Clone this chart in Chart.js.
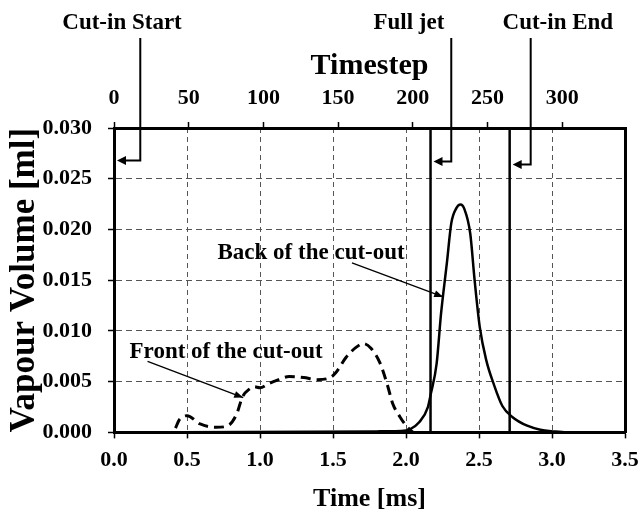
<!DOCTYPE html>
<html>
<head>
<meta charset="utf-8">
<script src="https://cdn.jsdelivr.net/npm/chart.js@4/dist/chart.umd.min.js"></script>
<style>
  html, body { margin: 0; padding: 0; background: #fff; }
</style>
</head>
<body>
<canvas id="vapourChart" width="640" height="517"></canvas>
<script>
const FONT = '"Liberation Serif", "Times New Roman", serif';

// front of the cut-out (dashed), time [ms] / volume [ml]
const frontTime = [0, 0.40, 0.45, 0.50, 0.59, 0.70, 0.78, 0.84, 0.88, 0.93, 0.96, 1.00, 1.06, 1.11, 1.20, 1.30, 1.39, 1.48, 1.52, 1.59, 1.66, 1.71, 1.76, 1.82, 1.87, 1.91, 1.96, 2.01, 2.05];
const frontVol = [0, 0, 0.0013, 0.00165, 0.00083, 0.0005, 0.00066, 0.0018, 0.0035, 0.0043, 0.0045, 0.0044, 0.0048, 0.0051, 0.0055, 0.0054, 0.0052, 0.0054, 0.0059, 0.0074, 0.0084, 0.00875, 0.0083, 0.0069, 0.0048, 0.0028, 0.0015, 0.0005, 0];

// back of the cut-out (solid)
const backTime = [0, 1.80, 2.00, 2.03, 2.09, 2.15, 2.17, 2.21, 2.24, 2.28, 2.31, 2.345, 2.373, 2.40, 2.44, 2.47, 2.505, 2.55, 2.60, 2.66, 2.73, 2.83, 2.92, 3.01, 3.10, 3.50];
const backVol = [0, 0.0001, 0.0002, 0.00033, 0.001, 0.0025, 0.0038, 0.0068, 0.0117, 0.0167, 0.0206, 0.0221, 0.02245, 0.0220, 0.0196, 0.0150, 0.0104, 0.0071, 0.0048, 0.0026, 0.0015, 0.00066, 0.00027, 0.0001, 0, 0];

// events (vertical markers) and their callouts
const eventNames = ['Cut-in Start', 'Full jet', 'Cut-in End'];
const eventTime = [0, 2.168, 2.71];
const eventLineTime = [0.18, 2.31, 2.854];
const eventArrowVol = [0.0268, 0.0267, 0.0264];
const eventLabelTime = [0.055, 2.02, 3.04];

// curve labels
const noteText = ['Back of the cut-out', 'Front of the cut-out'];
const noteTime = [1.35, 0.768];
const noteVol = [0.0177, 0.0079];
const noteFromTime = [1.63, 0.23];
const noteFromVol = [0.0167, 0.0070];
const noteToTime = [2.255, 0.885];
const noteToVol = [0.01335, 0.00343];

const yTicks = [0, 0.005, 0.010, 0.015, 0.020, 0.025, 0.030];
const xTicks = [0, 0.5, 1.0, 1.5, 2.0, 2.5, 3.0, 3.5];
const timestepMax = 342;

function toPoints(xs, ys) {
    return xs.map((v, i) => ({ x: v, y: ys[i] }));
}

function arrowHead(ctx, fromX, fromY, toX, toY, len, half) {
    const a = Math.atan2(toY - fromY, toX - fromX);
    ctx.beginPath();
    ctx.moveTo(toX, toY);
    ctx.lineTo(toX - len * Math.cos(a) + half * Math.sin(a), toY - len * Math.sin(a) - half * Math.cos(a));
    ctx.lineTo(toX - len * Math.cos(a) - half * Math.sin(a), toY - len * Math.sin(a) + half * Math.cos(a));
    ctx.closePath();
    ctx.fill();
}

const calloutPlugin = {
    id: 'callouts',
    afterDraw(chart) {
        const ctx = chart.ctx;
        const x = chart.scales.x;
        const y = chart.scales.y;
        ctx.save();
        ctx.strokeStyle = '#000';
        ctx.fillStyle = '#000';
        ctx.textAlign = 'center';
        ctx.textBaseline = 'middle';

        // event labels with bent arrows
        ctx.font = 'bold 23px ' + FONT;
        eventNames.forEach((name, i) => {
            const lx = x.getPixelForValue(eventLineTime[i]);
            const ay = y.getPixelForValue(eventArrowVol[i]);
            const tx = x.getPixelForValue(eventTime[i]) + 3;
            ctx.lineWidth = 2;
            ctx.beginPath();
            ctx.moveTo(lx, 38);
            ctx.lineTo(lx, ay);
            ctx.lineTo(tx + 8, ay);
            ctx.stroke();
            arrowHead(ctx, lx, ay, tx, ay, 9, 4.5);
            ctx.fillText(name, x.getPixelForValue(eventLabelTime[i]), 23);
        });

        // curve labels
        ctx.font = 'bold 23px ' + FONT;
        noteText.forEach((t, i) => {
            const fx = x.getPixelForValue(noteFromTime[i]);
            const fy = y.getPixelForValue(noteFromVol[i]);
            const ex = x.getPixelForValue(noteToTime[i]);
            const ey = y.getPixelForValue(noteToVol[i]);
            ctx.lineWidth = 1.3;
            ctx.beginPath();
            ctx.moveTo(fx, fy);
            ctx.lineTo(ex, ey);
            ctx.stroke();
            arrowHead(ctx, fx, fy, ex, ey, 9, 3.5);
            ctx.fillText(t, x.getPixelForValue(noteTime[i]), y.getPixelForValue(noteVol[i]));
        });
        ctx.restore();
    }
};

const markerSets = eventTime.map(t => ({
    data: [{ x: t, y: yTicks[0] }, { x: t, y: yTicks[yTicks.length - 1] }],
    borderColor: '#000',
    borderWidth: 2.5,
    pointRadius: 0
}));

const chartConfig = {
    type: 'line',
    data: {
        datasets: [
            {
                label: 'Front of the cut-out',
                data: toPoints(frontTime, frontVol),
                borderColor: '#000',
                borderWidth: 3,
                borderDash: [10, 6],
                pointRadius: 0,
                cubicInterpolationMode: 'monotone'
            },
            {
                label: 'Back of the cut-out',
                data: toPoints(backTime, backVol),
                borderColor: '#000',
                borderWidth: 2.5,
                pointRadius: 0,
                cubicInterpolationMode: 'monotone'
            },
            ...markerSets
        ]
    },
    options: {
        responsive: false,
        animation: false,
        layout: { padding: { top: 44, left: 2, right: 0, bottom: 2 } },
        plugins: { legend: { display: false }, tooltip: { enabled: false } },
        scales: {
            x: {
                type: 'linear',
                position: 'bottom',
                min: xTicks[0],
                max: xTicks[xTicks.length - 1],
                afterFit: s => { s.paddingRight = 15; },
                ticks: {
                    stepSize: 0.5,
                    color: '#000',
                    padding: 9,
                    font: { family: FONT, size: 22, weight: 'bold' },
                    callback: v => v.toFixed(1)
                },
                grid: { color: '#555', lineWidth: 1, tickColor: '#000', tickLength: 6, tickWidth: 1.5 },
                border: { display: true, color: '#000', width: 3, dash: [5, 4] },
                title: {
                    display: true,
                    text: 'Time [ms]',
                    color: '#000',
                    padding: { top: 1, bottom: 0 },
                    font: { family: FONT, size: 26, weight: 'bold' }
                }
            },
            x2: {
                type: 'linear',
                position: 'top',
                min: 0,
                max: timestepMax,
                afterFit: s => { s.height = 84; },
                ticks: {
                    stepSize: 50,
                    includeBounds: false,
                    color: '#000',
                    padding: 10,
                    font: { family: FONT, size: 22, weight: 'bold' }
                },
                grid: { drawOnChartArea: false, tickColor: '#000', tickLength: 6, tickWidth: 1.5 },
                border: { display: true, color: '#000', width: 3 },
                title: {
                    display: true,
                    text: 'Timestep',
                    color: '#000',
                    padding: { top: 4, bottom: 0 },
                    font: { family: FONT, size: 30, weight: 'bold' }
                }
            },
            y: {
                type: 'linear',
                min: yTicks[0],
                max: yTicks[yTicks.length - 1],
                afterFit: s => { s.width = 112; },
                ticks: {
                    stepSize: 0.005,
                    color: '#000',
                    padding: 16,
                    font: { family: FONT, size: 22, weight: 'bold' },
                    callback: v => v.toFixed(3)
                },
                grid: { color: '#555', lineWidth: 1, tickColor: '#000', tickLength: 6, tickWidth: 1.5 },
                border: { display: true, color: '#000', width: 3, dash: [6, 4] },
                title: {
                    display: true,
                    text: 'Vapour Volume [ml]',
                    color: '#000',
                    padding: { top: 2, bottom: 0 },
                    font: { family: FONT, size: 35, weight: 'bold' }
                }
            },
            y2: {
                type: 'linear',
                position: 'right',
                min: yTicks[0],
                max: yTicks[yTicks.length - 1],
                ticks: { display: false },
                grid: { display: false },
                border: { display: true, color: '#000', width: 3 }
            }
        }
    },
    plugins: [calloutPlugin]
};

new Chart(document.getElementById('vapourChart').getContext('2d'), chartConfig);
</script>
</body>
</html>
